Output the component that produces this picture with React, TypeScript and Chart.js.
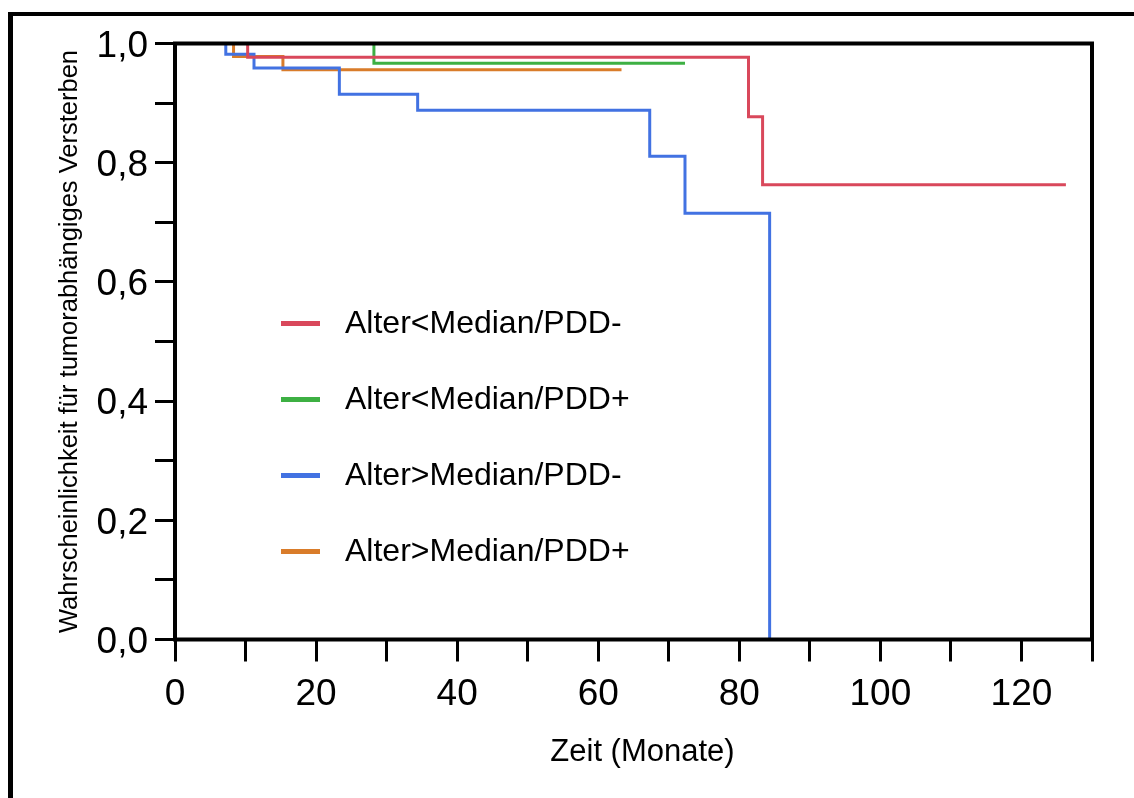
import React, { useEffect, useRef } from "react";
import { Chart, registerables } from "chart.js";

Chart.register(...registerables);

// Kaplan-Meier estimates: event times (months) and survival after each step
const seriesLabels = [
  "Alter<Median/PDD-",
  "Alter<Median/PDD+",
  "Alter>Median/PDD-",
  "Alter>Median/PDD+",
];
const seriesColors = ["#d9485b", "#3db043", "#4272e2", "#d97c2a"];

const redTimes = [0, 10.3, 81.3, 83.3, 126.3];
const redSurvival = [1, 0.977, 0.877, 0.763, 0.763];

const greenTimes = [0, 28.2, 72.3];
const greenSurvival = [1, 0.967, 0.967];

const blueTimes = [0, 7.2, 11.2, 23.3, 34.4, 67.3, 72.3, 84.3];
const blueSurvival = [1, 0.982, 0.959, 0.915, 0.888, 0.811, 0.715, 0];

const orangeTimes = [0, 8.3, 15.3, 63.3];
const orangeSurvival = [1, 0.978, 0.956, 0.956];

const xTickLabels = ["0", "20", "40", "60", "80", "100", "120"];
const yTickLabels = ["0,0", "0,2", "0,4", "0,6", "0,8", "1,0"];

const xTitle = "Zeit (Monate)";
const yTitle = "Wahrscheinlichkeit für tumorabhängiges Versterben";

const FONT = "'Liberation Sans', Arial, Helvetica, sans-serif";

const toPoints = (times: number[], surv: number[]) =>
  times.map((t, i) => ({ x: t, y: surv[i] }));

const allTimes = [redTimes, greenTimes, blueTimes, orangeTimes];
const allSurvival = [redSurvival, greenSurvival, blueSurvival, orangeSurvival];

const decorations = {
  id: "decorations",
  beforeDraw(chart: any) {
    const { ctx, width, height } = chart;
    ctx.save();
    ctx.fillStyle = "#fff";
    ctx.fillRect(0, 0, width, height);
    // outer frame (top and left edges)
    ctx.fillStyle = "#000";
    ctx.fillRect(8, 12, width - 8, 4);
    ctx.fillRect(8, 12, 5, height - 12);
    ctx.restore();
  },
  afterDatasetsDraw(chart: any) {
    const { ctx, chartArea } = chart;
    const { left, top, right, bottom } = chartArea;
    ctx.save();
    // plot frame
    ctx.strokeStyle = "#000";
    ctx.lineWidth = 4;
    ctx.lineJoin = "miter";
    ctx.strokeRect(left, top, right - left, bottom - top);

    // legend inside the plot
    const lx = left + 106;
    const ly = top + 280;
    const gap = 76;
    chart.data.datasets.forEach((ds: any, i: number) => {
      const y = ly + i * gap;
      ctx.strokeStyle = ds.borderColor;
      ctx.lineWidth = 5;
      ctx.lineCap = "butt";
      ctx.beginPath();
      ctx.moveTo(lx, y);
      ctx.lineTo(lx + 39, y);
      ctx.stroke();
      ctx.fillStyle = "#000";
      ctx.font = `32px ${FONT}`;
      ctx.textAlign = "left";
      ctx.textBaseline = "middle";
      ctx.fillText(ds.label, lx + 64, y + 1);
    });

    // x axis title
    ctx.fillStyle = "#000";
    ctx.font = `31px ${FONT}`;
    ctx.textAlign = "center";
    ctx.textBaseline = "middle";
    ctx.fillText(xTitle, (left + right) / 2 + 9, 752.5);
    ctx.restore();
  },
};

export default function App() {
  const canvasRef = useRef<HTMLCanvasElement>(null);

  useEffect(() => {
    if (!canvasRef.current) return;
    const chart = new Chart(canvasRef.current, {
      type: "line",
      data: {
        datasets: seriesLabels.map((label, i) => ({
          label,
          data: toPoints(allTimes[i], allSurvival[i]),
          borderColor: seriesColors[i],
          backgroundColor: seriesColors[i],
          borderWidth: 3,
          pointRadius: 0,
          stepped: "before" as const,
          fill: false,
          tension: 0,
        })),
      },
      options: {
        animation: false,
        responsive: false,
        devicePixelRatio: 1,
        layout: { padding: { left: 0, right: 42, top: 43.5, bottom: 0 } },
        plugins: {
          legend: { display: false },
          tooltip: { enabled: false },
        },
        scales: {
          x: {
            type: "linear",
            min: 0,
            max: 130,
            afterFit: (scale: any) => {
              scale.height = 158.5;
            },
            border: { display: false },
            grid: {
              drawOnChartArea: false,
              drawTicks: true,
              tickLength: 22,
              tickColor: "#000",
              tickWidth: 3,
            },
            ticks: {
              stepSize: 10,
              autoSkip: false,
              maxRotation: 0,
              padding: 11,
              color: "#000",
              font: { family: FONT, size: 37 },
              callback: (v: any) => {
                const idx = xTickLabels.indexOf(String(v));
                return idx >= 0 ? xTickLabels[idx] : "";
              },
            },
            title: { display: false },
          },
          y: {
            type: "linear",
            min: 0,
            max: 1,
            afterFit: (scale: any) => {
              scale.width = 175;
            },
            border: { display: false },
            grid: {
              drawOnChartArea: false,
              drawTicks: true,
              tickLength: 20,
              tickColor: "#000",
              tickWidth: 3,
            },
            ticks: {
              stepSize: 0.1,
              autoSkip: false,
              padding: 7,
              labelOffset: 3,
              color: "#000",
              font: { family: FONT, size: 37 },
              callback: (v: any) => {
                const k = Math.round(Number(v) * 10);
                return k % 2 === 0 ? yTickLabels[k / 2] : "";
              },
            },
            title: {
              display: true,
              text: yTitle,
              color: "#000",
              font: { family: FONT, size: 25.5 },
              padding: { top: 55, bottom: 0 },
            },
          },
        },
      },
      plugins: [decorations],
    });
    return () => chart.destroy();
  }, []);

  return (
    <div
      style={{
        position: "absolute",
        left: 0,
        top: 0,
        width: 1134,
        height: 798,
        background: "#fff",
      }}
    >
      <canvas
        ref={canvasRef}
        width={1134}
        height={798}
        style={{ display: "block", width: 1134, height: 798 }}
      />
    </div>
  );
}
